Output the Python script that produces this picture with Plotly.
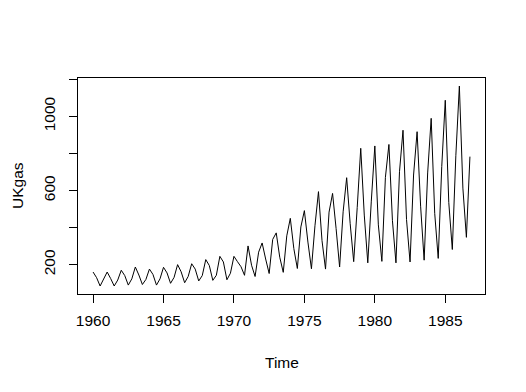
import plotly.graph_objects as go

years = list(range(1960, 1987))
q1 = [160.1,160.1,169.7,187.3,176.1,185.7,200.1,204.9,227.3,244.9,244.9,301.0,317.0,371.4,449.9,491.5,593.9,584.3,669.2,827.7,840.5,848.5,925.3,917.3,989.4,1087.0,1163.9]
q2 = [129.7,124.9,140.9,144.1,147.3,155.3,161.7,176.1,195.3,214.5,216.1,196.9,230.5,240.1,286.6,321.8,329.8,395.4,421.0,467.5,414.6,437.0,443.4,515.5,477.1,534.7,613.1]
q3 = [84.8,84.8,89.7,92.9,89.7,99.3,102.5,112.1,115.3,118.5,188.9,136.1,152.1,158.5,179.3,177.7,176.1,187.3,216.1,209.7,217.7,209.7,214.5,224.1,233.7,281.8,347.4]
q4 = [120.1,116.9,123.3,120.1,123.3,131.3,136.1,140.9,142.5,153.7,142.5,267.3,336.2,355.4,403.4,409.8,483.5,485.1,509.1,542.7,670.8,701.2,683.6,694.8,730.0,787.6,782.8]

x_tick_vals = [1960, 1965, 1970, 1975, 1980, 1985]
y_tick_vals = [200, 400, 600, 800, 1000, 1200]
y_tick_text = ["200", "", "600", "", "1000", ""]

t, v = [], []
for i, yr in enumerate(years):
    for k, arr in enumerate([q1, q2, q3, q4]):
        t.append(yr + k / 4)
        v.append(arr[i])

tmin, tmax = min(t), max(t)
vmin, vmax = min(v), max(v)
xpad = 0.04 * (tmax - tmin)
ypad = 0.04 * (vmax - vmin)

font = dict(family="Liberation Sans, Arial, sans-serif", size=15.5, color="black")

fig = go.Figure(go.Scatter(x=t, y=v, mode="lines",
                           line=dict(color="black", width=1), hoverinfo="skip"))

fig.update_layout(
    width=526, height=392,
    margin=dict(l=78, r=41, t=78, b=98),
    paper_bgcolor="white", plot_bgcolor="white",
    showlegend=False, font=font,
)
fig.update_xaxes(range=[tmin - xpad, tmax + xpad], tickvals=x_tick_vals,
                 showgrid=False, zeroline=False, showline=True, mirror=True,
                 linecolor="black", linewidth=1, ticks="outside", ticklen=8,
                 tickcolor="black", tickwidth=1, ticklabelstandoff=4, tickfont=font)
fig.update_yaxes(range=[vmin - ypad, vmax + ypad], tickvals=y_tick_vals, ticktext=y_tick_text,
                 showgrid=False, zeroline=False, showline=True, mirror=True,
                 linecolor="black", linewidth=1, ticks="outside", ticklen=8,
                 tickcolor="black", tickwidth=1, tickangle=-90, ticklabelstandoff=8, tickfont=font)

fig.add_annotation(text="Time", xref="paper", yref="paper", x=0.5, y=0,
                   yshift=-68, showarrow=False, font=font, yanchor="middle")
fig.add_annotation(text="UKgas", xref="paper", yref="paper", x=0, y=0.5,
                   xshift=-61, showarrow=False, font=font, textangle=-90, xanchor="center")

fig.write_html("out.html", config={"displayModeBar": False},
               post_script="document.body.style.margin='0';document.body.style.overflow='hidden';")
